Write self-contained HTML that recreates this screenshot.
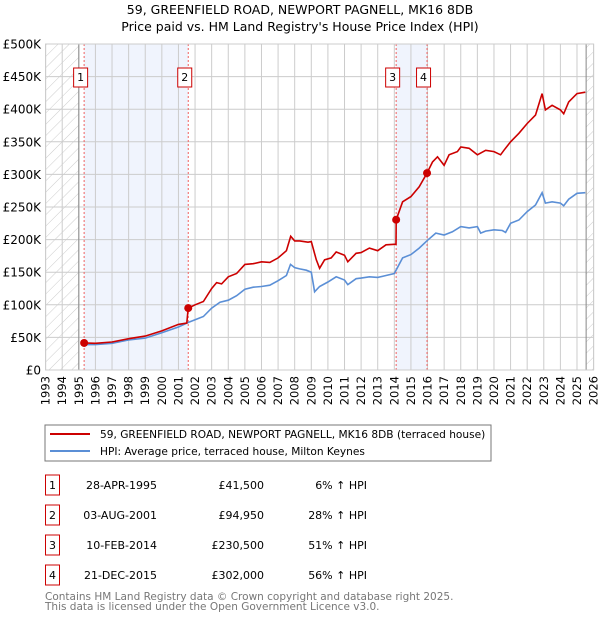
<!DOCTYPE html>
<html><head><meta charset="utf-8"><style>
body{margin:0;background:#fff;font-family:"DejaVu Sans","Liberation Sans",sans-serif;}
svg text{font-family:"DejaVu Sans","Liberation Sans",sans-serif;}
</style></head><body>
<svg id="c" width="600" height="620" viewBox="0 0 600 620">
<defs><pattern id="h" width="8" height="8" patternUnits="userSpaceOnUse" patternTransform="rotate(45)"><line x1="0" y1="0" x2="0" y2="8" stroke="#ccc" stroke-width="1"/></pattern></defs>
<text x="300" y="14" text-anchor="middle" font-size="12.5">59, GREENFIELD ROAD, NEWPORT PAGNELL, MK16 8DB</text>
<text x="300" y="31" text-anchor="middle" font-size="12.5">Price paid vs. HM Land Registry's House Price Index (HPI)</text>
<g id="plot"></g>
<rect x="45" y="425" width="446" height="36" fill="#fff" stroke="#777"/>
<line x1="50" y1="434" x2="90" y2="434" stroke="#cc0000" stroke-width="2"/>
<text x="100" y="438" font-size="10.6">59, GREENFIELD ROAD, NEWPORT PAGNELL, MK16 8DB (terraced house)</text>
<line x1="50" y1="451" x2="90" y2="451" stroke="#5b8fd6" stroke-width="2"/>
<text x="100" y="455" font-size="10.6">HPI: Average price, terraced house, Milton Keynes</text>
<g id="tbl" font-size="11"></g>
<text x="45" y="600" font-size="10.5" fill="#777">Contains HM Land Registry data © Crown copyright and database right 2025.</text>
<text x="45" y="610" font-size="10.5" fill="#777">This data is licensed under the Open Government Licence v3.0.</text>
</svg>
<script>
const yTicks=[0,50000,100000,150000,200000,250000,300000,350000,400000,450000,500000];
const yTickLabels=["£0","£50K","£100K","£150K","£200K","£250K","£300K","£350K","£400K","£450K","£500K"];
const hpiYears=[1995.3,1996,1997,1998,1999,2000,2001,2001.6,2002,2002.5,2003,2003.5,2004,2004.5,2005,2005.5,2006,2006.5,2007,2007.5,2007.75,2008,2008.3,2008.7,2009,2009.2,2009.5,2010,2010.5,2011,2011.2,2011.7,2012,2012.5,2013,2013.5,2014,2014.5,2015,2015.5,2016,2016.5,2017,2017.5,2018,2018.5,2019,2019.2,2019.5,2020,2020.5,2020.7,2021,2021.5,2022,2022.5,2022.9,2023.1,2023.5,2024,2024.2,2024.5,2025,2025.5];
const hpiValues=[39000,39000,41000,46000,49000,57000,66000,73000,77000,82000,95000,104000,107000,114000,124000,127000,128000,130000,137000,145000,162000,157000,155000,153000,150000,120000,128000,135000,143000,138000,131000,140000,141000,143000,142000,145000,148000,172000,177000,187000,199000,210000,207000,212000,220000,218000,220000,210000,213000,215000,214000,211000,225000,230000,243000,253000,272000,256000,258000,256000,252000,262000,271000,272000];
const priceYears=[1995.32,1996,1997,1998,1999,2000,2001,2001.5,2001.59,2002,2002.5,2003,2003.3,2003.6,2004,2004.5,2005,2005.5,2006,2006.5,2007,2007.5,2007.76,2008,2008.3,2008.8,2009,2009.3,2009.5,2009.8,2010.2,2010.5,2011,2011.2,2011.7,2012,2012.5,2013,2013.5,2014.1,2014.11,2014.5,2015,2015.5,2015.97,2016.3,2016.6,2017,2017.3,2017.8,2018,2018.5,2019,2019.5,2020,2020.4,2020.6,2021,2021.5,2022,2022.5,2022.9,2023.1,2023.5,2024,2024.2,2024.5,2025,2025.5];
const priceValues=[41500,41000,43000,48000,52000,60000,70000,72000,94950,100000,105000,125000,134000,132000,143000,148000,162000,163000,166000,165000,172000,183000,205000,198000,198000,196000,197000,169000,156000,169000,172000,181000,176000,166000,179000,180000,187000,183000,192000,193000,230500,258000,266000,281000,302000,319000,327000,314000,330000,335000,342000,340000,330000,337000,335000,330000,337000,350000,363000,378000,391000,424000,399000,406000,399000,393000,411000,424000,426000];
const saleYears=[1995.32,2001.59,2014.11,2015.97];
const saleValues=[41500,94950,230500,302000];
const saleLabels=["1","2","3","4"];
const saleDates=["28-APR-1995","03-AUG-2001","10-FEB-2014","21-DEC-2015"];
const salePrices=["£41,500","£94,950","£230,500","£302,000"];
const saleHpi=["6% ↑ HPI","28% ↑ HPI","51% ↑ HPI","56% ↑ HPI"];
const X0=45.6,X1=593.6,Y0=370,Y1=44;
const xs=y=>X0+(y-1993)/33*(X1-X0);
const ys=v=>Y0-v/500000*(Y0-Y1);
const NS="http://www.w3.org/2000/svg";
const g=document.getElementById('plot');
function mk(t,a,p){const e=document.createElementNS(NS,t);for(const k in a)e.setAttribute(k,a[k]);(p||g).appendChild(e);return e;}
let e;
e=mk('rect',{x:X0,y:Y1,width:xs(1995)-X0,height:Y0-Y1,fill:'url(#h)'});


e=mk('rect',{x:xs(2025.55),y:Y1,width:X1-xs(2025.55),height:Y0-Y1,fill:'url(#h)'});


e=mk('rect',{x:xs(saleYears[0]),y:Y1,width:xs(saleYears[1])-xs(saleYears[0]),height:Y0-Y1,fill:'#f0f4fd'});


e=mk('rect',{x:xs(saleYears[2]),y:Y1,width:xs(saleYears[3])-xs(saleYears[2]),height:Y0-Y1,fill:'#f0f4fd'});


for(let yr=1993;yr<=2026;yr++){
 e=mk('line',{x1:xs(yr),x2:xs(yr),y1:Y1,y2:Y0,stroke:'#ccc','stroke-width':1});
 
 
 const tx=xs(yr)+4;
 e=mk('text',{x:tx,y:376,'font-size':11.5,'text-anchor':'end',transform:`rotate(-90 ${tx} 376)`});
 e.textContent=String(yr);
 
 
}
yTicks.forEach((v,i)=>{
 e=mk('line',{x1:X0,x2:X1,y1:ys(v),y2:ys(v),stroke:'#ccc','stroke-width':1});
 
 
 e=mk('text',{x:41,y:ys(v)+4.5,'font-size':12,'text-anchor':'end'});
 e.textContent=yTickLabels[i];
 
 
});
e=mk('line',{x1:xs(1995),x2:xs(1995),y1:Y1,y2:Y0,stroke:'#888'});


e=mk('line',{x1:xs(2025.55),x2:xs(2025.55),y1:Y1,y2:Y0,stroke:'#888'});


saleYears.forEach((yr,i)=>{
 e=mk('line',{x1:xs(yr),x2:xs(yr),y1:Y1,y2:Y0,stroke:'#f06060','stroke-dasharray':'2,2'});
 
 
});
const path=(xa,va)=>xa.map((x,i)=>(i?'L':'M')+xs(x).toFixed(1)+','+ys(va[i]).toFixed(1)).join('');
e=mk('path',{d:path(hpiYears,hpiValues),fill:'none',stroke:'#5b8fd6','stroke-width':1.6});


e=mk('path',{d:path(priceYears,priceValues),fill:'none',stroke:'#cc0000','stroke-width':1.6});


saleYears.forEach((yr,i)=>{
 e=mk('circle',{cx:xs(yr),cy:ys(saleValues[i]),r:4,fill:'#cc0000'});
 
 
 e=mk('rect',{x:xs(yr)-10.5,y:68,width:14,height:19,fill:'#fff',stroke:'#cc0000'});
 
 
 e=mk('text',{x:xs(yr)-3.5,y:81,'font-size':11,'text-anchor':'middle'});
 e.textContent=saleLabels[i];
 
 
});
e=mk('rect',{x:X0,y:Y1,width:X1-X0,height:Y0-Y1,fill:'none',stroke:'#ccc'});


const t=document.getElementById('tbl');
saleLabels.forEach((l,i)=>{
 const yb=475+i*30;
 e=mk('rect',{x:45.5,y:yb,width:14,height:20,fill:'#fff',stroke:'#cc0000'},t);
 
 
 e=mk('text',{x:52.5,y:yb+14,'text-anchor':'middle'},t);e.textContent=l;
 
 
 e=mk('text',{x:157,y:yb+14,'text-anchor':'end'},t);e.textContent=saleDates[i];
 
 
 e=mk('text',{x:264,y:yb+14,'text-anchor':'end'},t);e.textContent=salePrices[i];
 
 
 e=mk('text',{x:367,y:yb+14,'text-anchor':'end'},t);e.textContent=saleHpi[i];
 
 
});
</script>
</body></html>
